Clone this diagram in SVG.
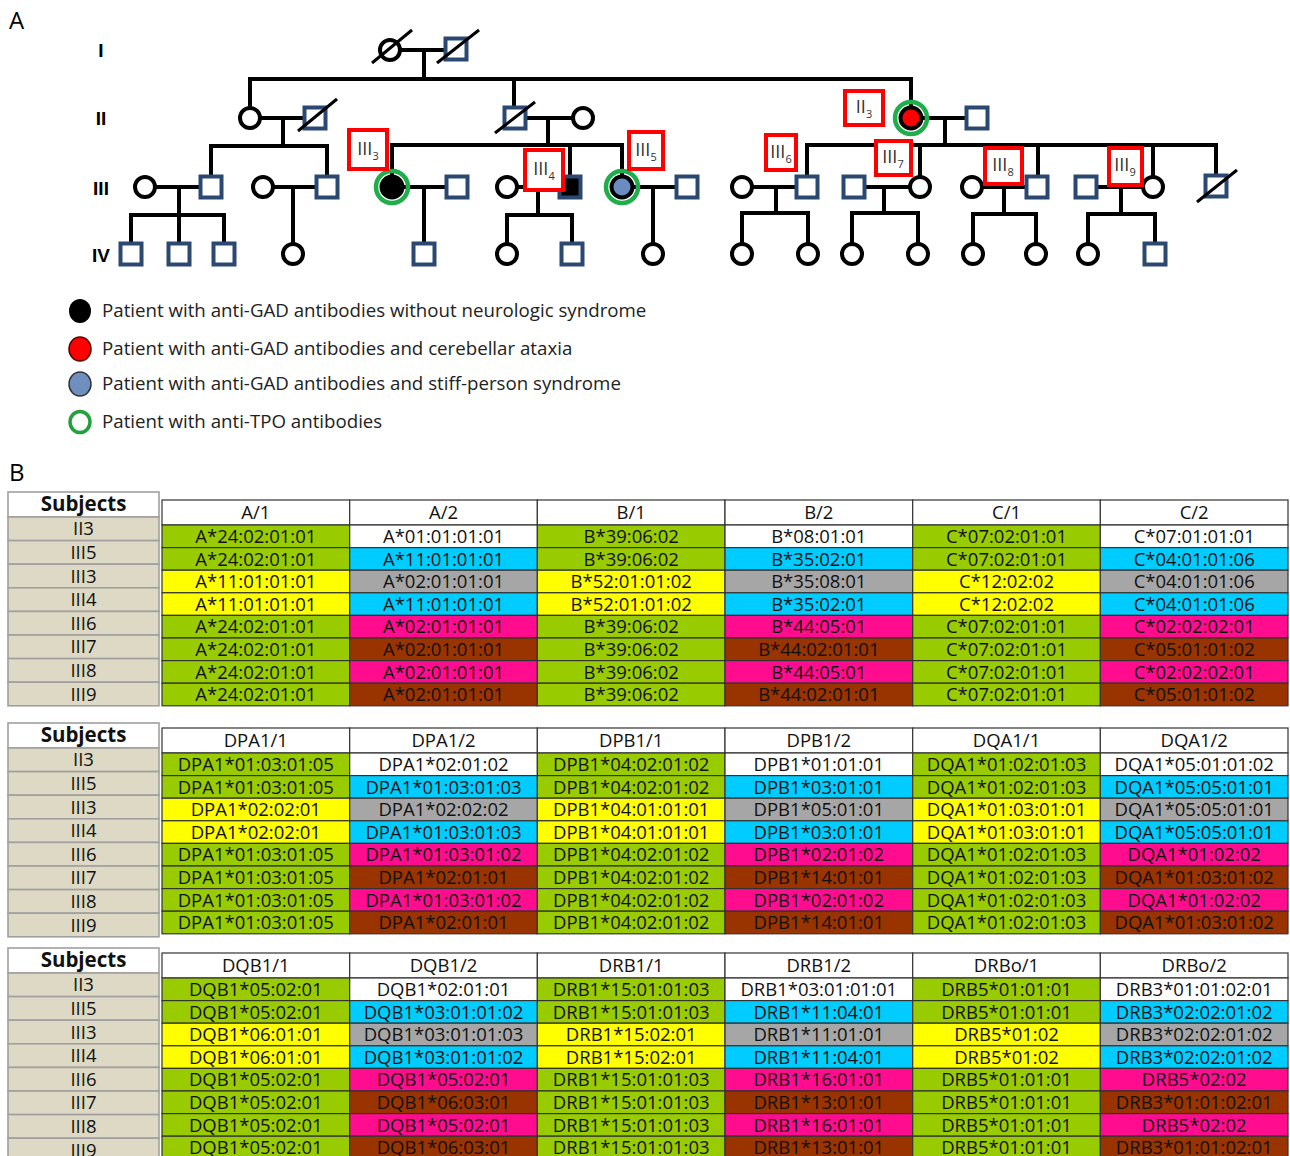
<svg xmlns="http://www.w3.org/2000/svg" width="1290" height="1156" viewBox="0 0 1290 1156">
<style>
.ln{stroke:#000;stroke-width:4;fill:none;stroke-linecap:square}
.sl{stroke:#000;stroke-width:3;fill:none}
.f{fill:#fff;stroke:#000;stroke-width:4}
.m{fill:#fff;stroke:#2b4970;stroke-width:4}
.tpo{fill:none;stroke:#1fae4b;stroke-width:4.5}
.lb{fill:#fff;stroke:#f00;stroke-width:4}
.lt{font-family:'Open Sans','DejaVu Sans',sans-serif;font-size:18px;fill:#333;text-anchor:middle}
.sub{font-size:11px}
.gen{font-family:'Liberation Sans',Arial,sans-serif;font-weight:bold;font-size:19px;text-anchor:middle;fill:#000}
.pl{font-family:'Open Sans','DejaVu Sans',sans-serif;font-size:24px;fill:#000}
.lg{font-family:'Open Sans','DejaVu Sans',sans-serif;font-size:18.7px;fill:#222}
.t{font-family:'Open Sans','DejaVu Sans',sans-serif;font-size:18.5px;fill:#111;text-anchor:middle}
.sh{font-family:'Open Sans','DejaVu Sans',sans-serif;font-size:20.5px;font-weight:bold;fill:#111;text-anchor:middle}
.cell{stroke:#333;stroke-width:1.2}
.sc{stroke:#a0a0a0;stroke-width:1.6}
.g{fill:#99cc00}.y{fill:#ffff00}.c{fill:#00ccff}.s{fill:#a6a6a6}.p{fill:#ff0d8e}.b{fill:#993300}.w{fill:#fff}.bg{fill:#ddd9c4}
</style>

<text class="pl" x="9" y="29">A</text>
<text class="pl" x="9" y="481">B</text>

<g id="generation-labels">
<text class="gen" x="101" y="57">I</text>
<text class="gen" x="101" y="125">II</text>
<text class="gen" x="101" y="195">III</text>
<text class="gen" x="101" y="262">IV</text>
</g>

<g id="connectors">
<path class="ln" d="M390,50H456 M424,50V79 M250,79H911 M250,79V118 M514,79V118 M911,79V118"/>
<path class="ln" d="M250,118H315 M283,118V146 M211,146H327 M211,146V187 M327,146V187"/>
<path class="ln" d="M515,118H583 M548,118V145 M392,145H622 M392,145V187 M570,145V187 M622,145V187"/>
<path class="ln" d="M911,118H977 M945,118V145 M807,145H1216 M807,145V187 M920,145V187 M1038,145V187 M1153,145V187 M1216,145V186"/>
<path class="ln" d="M145,187H211 M179,187V254 M131,215H224 M131,215V254 M224,215V254"/>
<path class="ln" d="M263,187H327 M293,187V254"/>
<path class="ln" d="M392,187H457 M424,187V254"/>
<path class="ln" d="M507,187H570 M538,187V215 M507,215H572 M507,215V254 M572,215V254"/>
<path class="ln" d="M622,187H687 M653,187V254"/>
<path class="ln" d="M742,187H807 M776,187V213 M742,213H808 M742,213V254 M808,213V254"/>
<path class="ln" d="M854,187H920 M884,187V213 M852,213H918 M852,213V254 M918,213V254"/>
<path class="ln" d="M972,187H1037 M1004,187V214 M973,214H1036 M973,214V254 M1036,214V254"/>
<path class="ln" d="M1086,187H1153 M1121,187V214 M1088,214H1155 M1088,214V254 M1155,214V254"/>
</g>

<g id="gen-I">
<g id="I1"><circle class="f" cx="390" cy="50" r="10"/><path class="sl" d="M372,63L412,30"/></g>
<g id="I2"><rect class="m" x="445.5" y="38.5" width="21" height="21"/><path class="sl" d="M437,63L479,30"/></g>
</g>

<g id="gen-II">
<g id="II1"><circle class="f" cx="250" cy="118" r="10"/></g>
<g id="II2"><rect class="m" x="304.5" y="107.5" width="21" height="21"/><path class="sl" d="M298,131L337,99"/></g>
<g id="II4"><rect class="m" x="504.5" y="107.5" width="21" height="21"/><path class="sl" d="M495,133L535,102"/></g>
<g id="II5"><circle class="f" cx="583" cy="118" r="10"/></g>
<g id="II3"><circle class="tpo" cx="911" cy="118" r="16"/><circle cx="911" cy="118" r="10.5" fill="#f00" stroke="#000" stroke-width="4"/></g>
<g id="II6"><rect class="m" x="966.5" y="107.5" width="21" height="21"/></g>
</g>

<g id="gen-III">
<g id="III-a"><circle class="f" cx="145" cy="187" r="10"/></g>
<g id="III1"><rect class="m" x="200.5" y="176.5" width="21" height="21"/></g>
<g id="III-b"><circle class="f" cx="263" cy="187" r="10"/></g>
<g id="III2"><rect class="m" x="316.5" y="176.5" width="21" height="21"/></g>
<g id="III3"><circle class="tpo" cx="392" cy="187" r="16"/><circle cx="392" cy="187" r="10.5" fill="#000" stroke="#000" stroke-width="4"/></g>
<g id="III3-sp"><rect class="m" x="446.5" y="176.5" width="21" height="21"/></g>
<g id="III4-sp"><circle class="f" cx="507" cy="187" r="10"/></g>
<g id="III4"><rect x="559.5" y="176.5" width="21" height="21" fill="#000" stroke="#2b4970" stroke-width="4"/></g>
<g id="III5"><circle class="tpo" cx="622" cy="187" r="16"/><circle cx="622" cy="187" r="10.5" fill="#6a8cc0" stroke="#000" stroke-width="4"/></g>
<g id="III5-sp"><rect class="m" x="676.5" y="176.5" width="21" height="21"/></g>
<g id="III6-sp"><circle class="f" cx="742" cy="187" r="10"/></g>
<g id="III6"><rect class="m" x="796.5" y="176.5" width="21" height="21"/></g>
<g id="III7-sp"><rect class="m" x="843.5" y="176.5" width="21" height="21"/></g>
<g id="III7"><circle class="f" cx="920" cy="187" r="10"/></g>
<g id="III8-sp"><circle class="f" cx="972" cy="187" r="10"/></g>
<g id="III8"><rect class="m" x="1026.5" y="176.5" width="21" height="21"/></g>
<g id="III9-sp"><rect class="m" x="1075.5" y="176.5" width="21" height="21"/></g>
<g id="III9"><circle class="f" cx="1153" cy="187" r="10"/></g>
<g id="III10"><rect class="m" x="1205.5" y="175.5" width="21" height="21"/><path class="sl" d="M1197,202L1237,170"/></g>
</g>

<g id="gen-IV">
<g id="IV1"><rect class="m" x="120.5" y="243.5" width="21" height="21"/></g>
<g id="IV2"><rect class="m" x="168.5" y="243.5" width="21" height="21"/></g>
<g id="IV3"><rect class="m" x="213.5" y="243.5" width="21" height="21"/></g>
<g id="IV4"><circle class="f" cx="293" cy="254" r="10"/></g>
<g id="IV5"><rect class="m" x="413.5" y="243.5" width="21" height="21"/></g>
<g id="IV6"><circle class="f" cx="507" cy="254" r="10"/></g>
<g id="IV7"><rect class="m" x="561.5" y="243.5" width="21" height="21"/></g>
<g id="IV8"><circle class="f" cx="653" cy="254" r="10"/></g>
<g id="IV9"><circle class="f" cx="742" cy="254" r="10"/></g>
<g id="IV10"><circle class="f" cx="808" cy="254" r="10"/></g>
<g id="IV11"><circle class="f" cx="852" cy="254" r="10"/></g>
<g id="IV12"><circle class="f" cx="918" cy="254" r="10"/></g>
<g id="IV13"><circle class="f" cx="973" cy="254" r="10"/></g>
<g id="IV14"><circle class="f" cx="1036" cy="254" r="10"/></g>
<g id="IV15"><circle class="f" cx="1088" cy="254" r="10"/></g>
<g id="IV16"><rect class="m" x="1144.5" y="243.5" width="21" height="21"/></g>
</g>

<g id="subject-labels">
<g id="lab-II3"><rect class="lb" x="845" y="91" width="38" height="34"/><text class="lt" x="864" y="113">II<tspan class="sub" dy="5">3</tspan></text></g>
<g id="lab-III3"><rect class="lb" x="349" y="130" width="38" height="39"/><text class="lt" x="368" y="155">III<tspan class="sub" dy="5">3</tspan></text></g>
<g id="lab-III4"><rect class="lb" x="525" y="150" width="38" height="40"/><text class="lt" x="544" y="175">III<tspan class="sub" dy="5">4</tspan></text></g>
<g id="lab-III5"><rect class="lb" x="629" y="132" width="34" height="37"/><text class="lt" x="646" y="156">III<tspan class="sub" dy="5">5</tspan></text></g>
<g id="lab-III6"><rect class="lb" x="766" y="135" width="30" height="35"/><text class="lt" x="781" y="158">III<tspan class="sub" dy="5">6</tspan></text></g>
<g id="lab-III7"><rect class="lb" x="876" y="141" width="35" height="34"/><text class="lt" x="893" y="163">III<tspan class="sub" dy="5">7</tspan></text></g>
<g id="lab-III8"><rect class="lb" x="985" y="148" width="37" height="36"/><text class="lt" x="1003" y="171">III<tspan class="sub" dy="5">8</tspan></text></g>
<g id="lab-III9"><rect class="lb" x="1109" y="148" width="33" height="37"/><text class="lt" x="1125" y="171">III<tspan class="sub" dy="5">9</tspan></text></g>
</g>

<g id="legend">
<g id="leg1"><ellipse cx="80" cy="311" rx="11" ry="12" fill="#000"/><text class="lg" x="102" y="317">Patient with anti-GAD antibodies without neurologic syndrome</text></g>
<g id="leg2"><ellipse cx="80" cy="349" rx="11" ry="12" fill="#f00" stroke="#5a0000" stroke-width="1.5"/><text class="lg" x="102" y="355">Patient with anti-GAD antibodies and cerebellar ataxia</text></g>
<g id="leg3"><ellipse cx="80" cy="384" rx="11" ry="12" fill="#6f8fbf" stroke="#333" stroke-width="1.5"/><text class="lg" x="102" y="390">Patient with anti-GAD antibodies and stiff-person syndrome</text></g>
<g id="leg4"><ellipse cx="80" cy="422" rx="10" ry="10.5" fill="#fff" stroke="#22a03c" stroke-width="3.5"/><text class="lg" x="102" y="428">Patient with anti-TPO antibodies</text></g>
</g>

<!-- ===== Table 1 ===== -->
<g id="subjects-1">
<rect class="w sc" x="8" y="492" width="151" height="25"/><text class="sh" x="83.5" y="511">Subjects</text>
<g transform="translate(8,517)">
<rect class="bg sc" x="0" y="0" width="151" height="23.6"/><text class="t" x="75.5" y="18.4">II3</text>
<rect class="bg sc" x="0" y="23.6" width="151" height="23.6"/><text class="t" x="75.5" y="42">III5</text>
<rect class="bg sc" x="0" y="47.2" width="151" height="23.6"/><text class="t" x="75.5" y="65.6">III3</text>
<rect class="bg sc" x="0" y="70.8" width="151" height="23.6"/><text class="t" x="75.5" y="89.2">III4</text>
<rect class="bg sc" x="0" y="94.4" width="151" height="23.6"/><text class="t" x="75.5" y="112.8">III6</text>
<rect class="bg sc" x="0" y="118" width="151" height="23.6"/><text class="t" x="75.5" y="136.4">III7</text>
<rect class="bg sc" x="0" y="141.6" width="151" height="23.6"/><text class="t" x="75.5" y="160">III8</text>
<rect class="bg sc" x="0" y="165.2" width="151" height="23.6"/><text class="t" x="75.5" y="183.6">III9</text>
</g>
</g>

<g id="hla-table-1">
<g transform="translate(0,500)">
<rect class="w cell" x="162" y="0" width="187.7" height="25"/><text class="t" x="255.8" y="19">A/1</text>
<rect class="w cell" x="349.7" y="0" width="187.7" height="25"/><text class="t" x="443.5" y="19">A/2</text>
<rect class="w cell" x="537.3" y="0" width="187.7" height="25"/><text class="t" x="631.2" y="19">B/1</text>
<rect class="w cell" x="725" y="0" width="187.7" height="25"/><text class="t" x="818.8" y="19">B/2</text>
<rect class="w cell" x="912.7" y="0" width="187.7" height="25"/><text class="t" x="1006.5" y="19">C/1</text>
<rect class="w cell" x="1100.3" y="0" width="187.7" height="25"/><text class="t" x="1194.2" y="19">C/2</text>
</g>
<g transform="translate(0,525)">
<rect class="g cell" x="162" y="0" width="187.7" height="22.6"/><text class="t" x="255.8" y="18">A*24:02:01:01</text>
<rect class="w cell" x="349.7" y="0" width="187.7" height="22.6"/><text class="t" x="443.5" y="18">A*01:01:01:01</text>
<rect class="g cell" x="537.3" y="0" width="187.7" height="22.6"/><text class="t" x="631.2" y="18">B*39:06:02</text>
<rect class="w cell" x="725" y="0" width="187.7" height="22.6"/><text class="t" x="818.8" y="18">B*08:01:01</text>
<rect class="g cell" x="912.7" y="0" width="187.7" height="22.6"/><text class="t" x="1006.5" y="18">C*07:02:01:01</text>
<rect class="w cell" x="1100.3" y="0" width="187.7" height="22.6"/><text class="t" x="1194.2" y="18">C*07:01:01:01</text>
</g>
<g transform="translate(0,547.6)">
<rect class="g cell" x="162" y="0" width="187.7" height="22.6"/><text class="t" x="255.8" y="18">A*24:02:01:01</text>
<rect class="c cell" x="349.7" y="0" width="187.7" height="22.6"/><text class="t" x="443.5" y="18">A*11:01:01:01</text>
<rect class="g cell" x="537.3" y="0" width="187.7" height="22.6"/><text class="t" x="631.2" y="18">B*39:06:02</text>
<rect class="c cell" x="725" y="0" width="187.7" height="22.6"/><text class="t" x="818.8" y="18">B*35:02:01</text>
<rect class="g cell" x="912.7" y="0" width="187.7" height="22.6"/><text class="t" x="1006.5" y="18">C*07:02:01:01</text>
<rect class="c cell" x="1100.3" y="0" width="187.7" height="22.6"/><text class="t" x="1194.2" y="18">C*04:01:01:06</text>
</g>
<g transform="translate(0,570.2)">
<rect class="y cell" x="162" y="0" width="187.7" height="22.6"/><text class="t" x="255.8" y="18">A*11:01:01:01</text>
<rect class="s cell" x="349.7" y="0" width="187.7" height="22.6"/><text class="t" x="443.5" y="18">A*02:01:01:01</text>
<rect class="y cell" x="537.3" y="0" width="187.7" height="22.6"/><text class="t" x="631.2" y="18">B*52:01:01:02</text>
<rect class="s cell" x="725" y="0" width="187.7" height="22.6"/><text class="t" x="818.8" y="18">B*35:08:01</text>
<rect class="y cell" x="912.7" y="0" width="187.7" height="22.6"/><text class="t" x="1006.5" y="18">C*12:02:02</text>
<rect class="s cell" x="1100.3" y="0" width="187.7" height="22.6"/><text class="t" x="1194.2" y="18">C*04:01:01:06</text>
</g>
<g transform="translate(0,592.8)">
<rect class="y cell" x="162" y="0" width="187.7" height="22.6"/><text class="t" x="255.8" y="18">A*11:01:01:01</text>
<rect class="c cell" x="349.7" y="0" width="187.7" height="22.6"/><text class="t" x="443.5" y="18">A*11:01:01:01</text>
<rect class="y cell" x="537.3" y="0" width="187.7" height="22.6"/><text class="t" x="631.2" y="18">B*52:01:01:02</text>
<rect class="c cell" x="725" y="0" width="187.7" height="22.6"/><text class="t" x="818.8" y="18">B*35:02:01</text>
<rect class="y cell" x="912.7" y="0" width="187.7" height="22.6"/><text class="t" x="1006.5" y="18">C*12:02:02</text>
<rect class="c cell" x="1100.3" y="0" width="187.7" height="22.6"/><text class="t" x="1194.2" y="18">C*04:01:01:06</text>
</g>
<g transform="translate(0,615.4)">
<rect class="g cell" x="162" y="0" width="187.7" height="22.6"/><text class="t" x="255.8" y="18">A*24:02:01:01</text>
<rect class="p cell" x="349.7" y="0" width="187.7" height="22.6"/><text class="t" x="443.5" y="18">A*02:01:01:01</text>
<rect class="g cell" x="537.3" y="0" width="187.7" height="22.6"/><text class="t" x="631.2" y="18">B*39:06:02</text>
<rect class="p cell" x="725" y="0" width="187.7" height="22.6"/><text class="t" x="818.8" y="18">B*44:05:01</text>
<rect class="g cell" x="912.7" y="0" width="187.7" height="22.6"/><text class="t" x="1006.5" y="18">C*07:02:01:01</text>
<rect class="p cell" x="1100.3" y="0" width="187.7" height="22.6"/><text class="t" x="1194.2" y="18">C*02:02:02:01</text>
</g>
<g transform="translate(0,638)">
<rect class="g cell" x="162" y="0" width="187.7" height="22.6"/><text class="t" x="255.8" y="18">A*24:02:01:01</text>
<rect class="b cell" x="349.7" y="0" width="187.7" height="22.6"/><text class="t" x="443.5" y="18">A*02:01:01:01</text>
<rect class="g cell" x="537.3" y="0" width="187.7" height="22.6"/><text class="t" x="631.2" y="18">B*39:06:02</text>
<rect class="b cell" x="725" y="0" width="187.7" height="22.6"/><text class="t" x="818.8" y="18">B*44:02:01:01</text>
<rect class="g cell" x="912.7" y="0" width="187.7" height="22.6"/><text class="t" x="1006.5" y="18">C*07:02:01:01</text>
<rect class="b cell" x="1100.3" y="0" width="187.7" height="22.6"/><text class="t" x="1194.2" y="18">C*05:01:01:02</text>
</g>
<g transform="translate(0,660.6)">
<rect class="g cell" x="162" y="0" width="187.7" height="22.6"/><text class="t" x="255.8" y="18">A*24:02:01:01</text>
<rect class="p cell" x="349.7" y="0" width="187.7" height="22.6"/><text class="t" x="443.5" y="18">A*02:01:01:01</text>
<rect class="g cell" x="537.3" y="0" width="187.7" height="22.6"/><text class="t" x="631.2" y="18">B*39:06:02</text>
<rect class="p cell" x="725" y="0" width="187.7" height="22.6"/><text class="t" x="818.8" y="18">B*44:05:01</text>
<rect class="g cell" x="912.7" y="0" width="187.7" height="22.6"/><text class="t" x="1006.5" y="18">C*07:02:01:01</text>
<rect class="p cell" x="1100.3" y="0" width="187.7" height="22.6"/><text class="t" x="1194.2" y="18">C*02:02:02:01</text>
</g>
<g transform="translate(0,683.2)">
<rect class="g cell" x="162" y="0" width="187.7" height="22.6"/><text class="t" x="255.8" y="18">A*24:02:01:01</text>
<rect class="b cell" x="349.7" y="0" width="187.7" height="22.6"/><text class="t" x="443.5" y="18">A*02:01:01:01</text>
<rect class="g cell" x="537.3" y="0" width="187.7" height="22.6"/><text class="t" x="631.2" y="18">B*39:06:02</text>
<rect class="b cell" x="725" y="0" width="187.7" height="22.6"/><text class="t" x="818.8" y="18">B*44:02:01:01</text>
<rect class="g cell" x="912.7" y="0" width="187.7" height="22.6"/><text class="t" x="1006.5" y="18">C*07:02:01:01</text>
<rect class="b cell" x="1100.3" y="0" width="187.7" height="22.6"/><text class="t" x="1194.2" y="18">C*05:01:01:02</text>
</g>
</g>

<!-- ===== Table 2 ===== -->
<g id="subjects-2">
<rect class="w sc" x="8" y="723" width="151" height="25"/><text class="sh" x="83.5" y="742">Subjects</text>
<g transform="translate(8,748)">
<rect class="bg sc" x="0" y="0" width="151" height="23.6"/><text class="t" x="75.5" y="18.4">II3</text>
<rect class="bg sc" x="0" y="23.6" width="151" height="23.6"/><text class="t" x="75.5" y="42">III5</text>
<rect class="bg sc" x="0" y="47.2" width="151" height="23.6"/><text class="t" x="75.5" y="65.6">III3</text>
<rect class="bg sc" x="0" y="70.8" width="151" height="23.6"/><text class="t" x="75.5" y="89.2">III4</text>
<rect class="bg sc" x="0" y="94.4" width="151" height="23.6"/><text class="t" x="75.5" y="112.8">III6</text>
<rect class="bg sc" x="0" y="118" width="151" height="23.6"/><text class="t" x="75.5" y="136.4">III7</text>
<rect class="bg sc" x="0" y="141.6" width="151" height="23.6"/><text class="t" x="75.5" y="160">III8</text>
<rect class="bg sc" x="0" y="165.2" width="151" height="23.6"/><text class="t" x="75.5" y="183.6">III9</text>
</g>
</g>

<g id="hla-table-2">
<g transform="translate(0,728)">
<rect class="w cell" x="162" y="0" width="187.7" height="25"/><text class="t" x="255.8" y="19">DPA1/1</text>
<rect class="w cell" x="349.7" y="0" width="187.7" height="25"/><text class="t" x="443.5" y="19">DPA1/2</text>
<rect class="w cell" x="537.3" y="0" width="187.7" height="25"/><text class="t" x="631.2" y="19">DPB1/1</text>
<rect class="w cell" x="725" y="0" width="187.7" height="25"/><text class="t" x="818.8" y="19">DPB1/2</text>
<rect class="w cell" x="912.7" y="0" width="187.7" height="25"/><text class="t" x="1006.5" y="19">DQA1/1</text>
<rect class="w cell" x="1100.3" y="0" width="187.7" height="25"/><text class="t" x="1194.2" y="19">DQA1/2</text>
</g>
<g transform="translate(0,753)">
<rect class="g cell" x="162" y="0" width="187.7" height="22.6"/><text class="t" x="255.8" y="18">DPA1*01:03:01:05</text>
<rect class="w cell" x="349.7" y="0" width="187.7" height="22.6"/><text class="t" x="443.5" y="18">DPA1*02:01:02</text>
<rect class="g cell" x="537.3" y="0" width="187.7" height="22.6"/><text class="t" x="631.2" y="18">DPB1*04:02:01:02</text>
<rect class="w cell" x="725" y="0" width="187.7" height="22.6"/><text class="t" x="818.8" y="18">DPB1*01:01:01</text>
<rect class="g cell" x="912.7" y="0" width="187.7" height="22.6"/><text class="t" x="1006.5" y="18">DQA1*01:02:01:03</text>
<rect class="w cell" x="1100.3" y="0" width="187.7" height="22.6"/><text class="t" x="1194.2" y="18">DQA1*05:01:01:02</text>
</g>
<g transform="translate(0,775.6)">
<rect class="g cell" x="162" y="0" width="187.7" height="22.6"/><text class="t" x="255.8" y="18">DPA1*01:03:01:05</text>
<rect class="c cell" x="349.7" y="0" width="187.7" height="22.6"/><text class="t" x="443.5" y="18">DPA1*01:03:01:03</text>
<rect class="g cell" x="537.3" y="0" width="187.7" height="22.6"/><text class="t" x="631.2" y="18">DPB1*04:02:01:02</text>
<rect class="c cell" x="725" y="0" width="187.7" height="22.6"/><text class="t" x="818.8" y="18">DPB1*03:01:01</text>
<rect class="g cell" x="912.7" y="0" width="187.7" height="22.6"/><text class="t" x="1006.5" y="18">DQA1*01:02:01:03</text>
<rect class="c cell" x="1100.3" y="0" width="187.7" height="22.6"/><text class="t" x="1194.2" y="18">DQA1*05:05:01:01</text>
</g>
<g transform="translate(0,798.2)">
<rect class="y cell" x="162" y="0" width="187.7" height="22.6"/><text class="t" x="255.8" y="18">DPA1*02:02:01</text>
<rect class="s cell" x="349.7" y="0" width="187.7" height="22.6"/><text class="t" x="443.5" y="18">DPA1*02:02:02</text>
<rect class="y cell" x="537.3" y="0" width="187.7" height="22.6"/><text class="t" x="631.2" y="18">DPB1*04:01:01:01</text>
<rect class="s cell" x="725" y="0" width="187.7" height="22.6"/><text class="t" x="818.8" y="18">DPB1*05:01:01</text>
<rect class="y cell" x="912.7" y="0" width="187.7" height="22.6"/><text class="t" x="1006.5" y="18">DQA1*01:03:01:01</text>
<rect class="s cell" x="1100.3" y="0" width="187.7" height="22.6"/><text class="t" x="1194.2" y="18">DQA1*05:05:01:01</text>
</g>
<g transform="translate(0,820.8)">
<rect class="y cell" x="162" y="0" width="187.7" height="22.6"/><text class="t" x="255.8" y="18">DPA1*02:02:01</text>
<rect class="c cell" x="349.7" y="0" width="187.7" height="22.6"/><text class="t" x="443.5" y="18">DPA1*01:03:01:03</text>
<rect class="y cell" x="537.3" y="0" width="187.7" height="22.6"/><text class="t" x="631.2" y="18">DPB1*04:01:01:01</text>
<rect class="c cell" x="725" y="0" width="187.7" height="22.6"/><text class="t" x="818.8" y="18">DPB1*03:01:01</text>
<rect class="y cell" x="912.7" y="0" width="187.7" height="22.6"/><text class="t" x="1006.5" y="18">DQA1*01:03:01:01</text>
<rect class="c cell" x="1100.3" y="0" width="187.7" height="22.6"/><text class="t" x="1194.2" y="18">DQA1*05:05:01:01</text>
</g>
<g transform="translate(0,843.4)">
<rect class="g cell" x="162" y="0" width="187.7" height="22.6"/><text class="t" x="255.8" y="18">DPA1*01:03:01:05</text>
<rect class="p cell" x="349.7" y="0" width="187.7" height="22.6"/><text class="t" x="443.5" y="18">DPA1*01:03:01:02</text>
<rect class="g cell" x="537.3" y="0" width="187.7" height="22.6"/><text class="t" x="631.2" y="18">DPB1*04:02:01:02</text>
<rect class="p cell" x="725" y="0" width="187.7" height="22.6"/><text class="t" x="818.8" y="18">DPB1*02:01:02</text>
<rect class="g cell" x="912.7" y="0" width="187.7" height="22.6"/><text class="t" x="1006.5" y="18">DQA1*01:02:01:03</text>
<rect class="p cell" x="1100.3" y="0" width="187.7" height="22.6"/><text class="t" x="1194.2" y="18">DQA1*01:02:02</text>
</g>
<g transform="translate(0,866)">
<rect class="g cell" x="162" y="0" width="187.7" height="22.6"/><text class="t" x="255.8" y="18">DPA1*01:03:01:05</text>
<rect class="b cell" x="349.7" y="0" width="187.7" height="22.6"/><text class="t" x="443.5" y="18">DPA1*02:01:01</text>
<rect class="g cell" x="537.3" y="0" width="187.7" height="22.6"/><text class="t" x="631.2" y="18">DPB1*04:02:01:02</text>
<rect class="b cell" x="725" y="0" width="187.7" height="22.6"/><text class="t" x="818.8" y="18">DPB1*14:01:01</text>
<rect class="g cell" x="912.7" y="0" width="187.7" height="22.6"/><text class="t" x="1006.5" y="18">DQA1*01:02:01:03</text>
<rect class="b cell" x="1100.3" y="0" width="187.7" height="22.6"/><text class="t" x="1194.2" y="18">DQA1*01:03:01:02</text>
</g>
<g transform="translate(0,888.6)">
<rect class="g cell" x="162" y="0" width="187.7" height="22.6"/><text class="t" x="255.8" y="18">DPA1*01:03:01:05</text>
<rect class="p cell" x="349.7" y="0" width="187.7" height="22.6"/><text class="t" x="443.5" y="18">DPA1*01:03:01:02</text>
<rect class="g cell" x="537.3" y="0" width="187.7" height="22.6"/><text class="t" x="631.2" y="18">DPB1*04:02:01:02</text>
<rect class="p cell" x="725" y="0" width="187.7" height="22.6"/><text class="t" x="818.8" y="18">DPB1*02:01:02</text>
<rect class="g cell" x="912.7" y="0" width="187.7" height="22.6"/><text class="t" x="1006.5" y="18">DQA1*01:02:01:03</text>
<rect class="p cell" x="1100.3" y="0" width="187.7" height="22.6"/><text class="t" x="1194.2" y="18">DQA1*01:02:02</text>
</g>
<g transform="translate(0,911.2)">
<rect class="g cell" x="162" y="0" width="187.7" height="22.6"/><text class="t" x="255.8" y="18">DPA1*01:03:01:05</text>
<rect class="b cell" x="349.7" y="0" width="187.7" height="22.6"/><text class="t" x="443.5" y="18">DPA1*02:01:01</text>
<rect class="g cell" x="537.3" y="0" width="187.7" height="22.6"/><text class="t" x="631.2" y="18">DPB1*04:02:01:02</text>
<rect class="b cell" x="725" y="0" width="187.7" height="22.6"/><text class="t" x="818.8" y="18">DPB1*14:01:01</text>
<rect class="g cell" x="912.7" y="0" width="187.7" height="22.6"/><text class="t" x="1006.5" y="18">DQA1*01:02:01:03</text>
<rect class="b cell" x="1100.3" y="0" width="187.7" height="22.6"/><text class="t" x="1194.2" y="18">DQA1*01:03:01:02</text>
</g>
</g>

<!-- ===== Table 3 ===== -->
<g id="subjects-3">
<rect class="w sc" x="8" y="948" width="151" height="25"/><text class="sh" x="83.5" y="967">Subjects</text>
<g transform="translate(8,973)">
<rect class="bg sc" x="0" y="0" width="151" height="23.6"/><text class="t" x="75.5" y="18.4">II3</text>
<rect class="bg sc" x="0" y="23.6" width="151" height="23.6"/><text class="t" x="75.5" y="42">III5</text>
<rect class="bg sc" x="0" y="47.2" width="151" height="23.6"/><text class="t" x="75.5" y="65.6">III3</text>
<rect class="bg sc" x="0" y="70.8" width="151" height="23.6"/><text class="t" x="75.5" y="89.2">III4</text>
<rect class="bg sc" x="0" y="94.4" width="151" height="23.6"/><text class="t" x="75.5" y="112.8">III6</text>
<rect class="bg sc" x="0" y="118" width="151" height="23.6"/><text class="t" x="75.5" y="136.4">III7</text>
<rect class="bg sc" x="0" y="141.6" width="151" height="23.6"/><text class="t" x="75.5" y="160">III8</text>
<rect class="bg sc" x="0" y="165.2" width="151" height="23.6"/><text class="t" x="75.5" y="183.6">III9</text>
</g>
</g>

<g id="hla-table-3">
<g transform="translate(0,953)">
<rect class="w cell" x="162" y="0" width="187.7" height="25"/><text class="t" x="255.8" y="19">DQB1/1</text>
<rect class="w cell" x="349.7" y="0" width="187.7" height="25"/><text class="t" x="443.5" y="19">DQB1/2</text>
<rect class="w cell" x="537.3" y="0" width="187.7" height="25"/><text class="t" x="631.2" y="19">DRB1/1</text>
<rect class="w cell" x="725" y="0" width="187.7" height="25"/><text class="t" x="818.8" y="19">DRB1/2</text>
<rect class="w cell" x="912.7" y="0" width="187.7" height="25"/><text class="t" x="1006.5" y="19">DRBo/1</text>
<rect class="w cell" x="1100.3" y="0" width="187.7" height="25"/><text class="t" x="1194.2" y="19">DRBo/2</text>
</g>
<g transform="translate(0,978)">
<rect class="g cell" x="162" y="0" width="187.7" height="22.6"/><text class="t" x="255.8" y="18">DQB1*05:02:01</text>
<rect class="w cell" x="349.7" y="0" width="187.7" height="22.6"/><text class="t" x="443.5" y="18">DQB1*02:01:01</text>
<rect class="g cell" x="537.3" y="0" width="187.7" height="22.6"/><text class="t" x="631.2" y="18">DRB1*15:01:01:03</text>
<rect class="w cell" x="725" y="0" width="187.7" height="22.6"/><text class="t" x="818.8" y="18">DRB1*03:01:01:01</text>
<rect class="g cell" x="912.7" y="0" width="187.7" height="22.6"/><text class="t" x="1006.5" y="18">DRB5*01:01:01</text>
<rect class="w cell" x="1100.3" y="0" width="187.7" height="22.6"/><text class="t" x="1194.2" y="18">DRB3*01:01:02:01</text>
</g>
<g transform="translate(0,1000.6)">
<rect class="g cell" x="162" y="0" width="187.7" height="22.6"/><text class="t" x="255.8" y="18">DQB1*05:02:01</text>
<rect class="c cell" x="349.7" y="0" width="187.7" height="22.6"/><text class="t" x="443.5" y="18">DQB1*03:01:01:02</text>
<rect class="g cell" x="537.3" y="0" width="187.7" height="22.6"/><text class="t" x="631.2" y="18">DRB1*15:01:01:03</text>
<rect class="c cell" x="725" y="0" width="187.7" height="22.6"/><text class="t" x="818.8" y="18">DRB1*11:04:01</text>
<rect class="g cell" x="912.7" y="0" width="187.7" height="22.6"/><text class="t" x="1006.5" y="18">DRB5*01:01:01</text>
<rect class="c cell" x="1100.3" y="0" width="187.7" height="22.6"/><text class="t" x="1194.2" y="18">DRB3*02:02:01:02</text>
</g>
<g transform="translate(0,1023.2)">
<rect class="y cell" x="162" y="0" width="187.7" height="22.6"/><text class="t" x="255.8" y="18">DQB1*06:01:01</text>
<rect class="s cell" x="349.7" y="0" width="187.7" height="22.6"/><text class="t" x="443.5" y="18">DQB1*03:01:01:03</text>
<rect class="y cell" x="537.3" y="0" width="187.7" height="22.6"/><text class="t" x="631.2" y="18">DRB1*15:02:01</text>
<rect class="s cell" x="725" y="0" width="187.7" height="22.6"/><text class="t" x="818.8" y="18">DRB1*11:01:01</text>
<rect class="y cell" x="912.7" y="0" width="187.7" height="22.6"/><text class="t" x="1006.5" y="18">DRB5*01:02</text>
<rect class="s cell" x="1100.3" y="0" width="187.7" height="22.6"/><text class="t" x="1194.2" y="18">DRB3*02:02:01:02</text>
</g>
<g transform="translate(0,1045.8)">
<rect class="y cell" x="162" y="0" width="187.7" height="22.6"/><text class="t" x="255.8" y="18">DQB1*06:01:01</text>
<rect class="c cell" x="349.7" y="0" width="187.7" height="22.6"/><text class="t" x="443.5" y="18">DQB1*03:01:01:02</text>
<rect class="y cell" x="537.3" y="0" width="187.7" height="22.6"/><text class="t" x="631.2" y="18">DRB1*15:02:01</text>
<rect class="c cell" x="725" y="0" width="187.7" height="22.6"/><text class="t" x="818.8" y="18">DRB1*11:04:01</text>
<rect class="y cell" x="912.7" y="0" width="187.7" height="22.6"/><text class="t" x="1006.5" y="18">DRB5*01:02</text>
<rect class="c cell" x="1100.3" y="0" width="187.7" height="22.6"/><text class="t" x="1194.2" y="18">DRB3*02:02:01:02</text>
</g>
<g transform="translate(0,1068.4)">
<rect class="g cell" x="162" y="0" width="187.7" height="22.6"/><text class="t" x="255.8" y="18">DQB1*05:02:01</text>
<rect class="p cell" x="349.7" y="0" width="187.7" height="22.6"/><text class="t" x="443.5" y="18">DQB1*05:02:01</text>
<rect class="g cell" x="537.3" y="0" width="187.7" height="22.6"/><text class="t" x="631.2" y="18">DRB1*15:01:01:03</text>
<rect class="p cell" x="725" y="0" width="187.7" height="22.6"/><text class="t" x="818.8" y="18">DRB1*16:01:01</text>
<rect class="g cell" x="912.7" y="0" width="187.7" height="22.6"/><text class="t" x="1006.5" y="18">DRB5*01:01:01</text>
<rect class="p cell" x="1100.3" y="0" width="187.7" height="22.6"/><text class="t" x="1194.2" y="18">DRB5*02:02</text>
</g>
<g transform="translate(0,1091)">
<rect class="g cell" x="162" y="0" width="187.7" height="22.6"/><text class="t" x="255.8" y="18">DQB1*05:02:01</text>
<rect class="b cell" x="349.7" y="0" width="187.7" height="22.6"/><text class="t" x="443.5" y="18">DQB1*06:03:01</text>
<rect class="g cell" x="537.3" y="0" width="187.7" height="22.6"/><text class="t" x="631.2" y="18">DRB1*15:01:01:03</text>
<rect class="b cell" x="725" y="0" width="187.7" height="22.6"/><text class="t" x="818.8" y="18">DRB1*13:01:01</text>
<rect class="g cell" x="912.7" y="0" width="187.7" height="22.6"/><text class="t" x="1006.5" y="18">DRB5*01:01:01</text>
<rect class="b cell" x="1100.3" y="0" width="187.7" height="22.6"/><text class="t" x="1194.2" y="18">DRB3*01:01:02:01</text>
</g>
<g transform="translate(0,1113.6)">
<rect class="g cell" x="162" y="0" width="187.7" height="22.6"/><text class="t" x="255.8" y="18">DQB1*05:02:01</text>
<rect class="p cell" x="349.7" y="0" width="187.7" height="22.6"/><text class="t" x="443.5" y="18">DQB1*05:02:01</text>
<rect class="g cell" x="537.3" y="0" width="187.7" height="22.6"/><text class="t" x="631.2" y="18">DRB1*15:01:01:03</text>
<rect class="p cell" x="725" y="0" width="187.7" height="22.6"/><text class="t" x="818.8" y="18">DRB1*16:01:01</text>
<rect class="g cell" x="912.7" y="0" width="187.7" height="22.6"/><text class="t" x="1006.5" y="18">DRB5*01:01:01</text>
<rect class="p cell" x="1100.3" y="0" width="187.7" height="22.6"/><text class="t" x="1194.2" y="18">DRB5*02:02</text>
</g>
<g transform="translate(0,1136.2)">
<rect class="g cell" x="162" y="0" width="187.7" height="22.6"/><text class="t" x="255.8" y="17.5">DQB1*05:02:01</text>
<rect class="b cell" x="349.7" y="0" width="187.7" height="22.6"/><text class="t" x="443.5" y="17.5">DQB1*06:03:01</text>
<rect class="g cell" x="537.3" y="0" width="187.7" height="22.6"/><text class="t" x="631.2" y="17.5">DRB1*15:01:01:03</text>
<rect class="b cell" x="725" y="0" width="187.7" height="22.6"/><text class="t" x="818.8" y="17.5">DRB1*13:01:01</text>
<rect class="g cell" x="912.7" y="0" width="187.7" height="22.6"/><text class="t" x="1006.5" y="17.5">DRB5*01:01:01</text>
<rect class="b cell" x="1100.3" y="0" width="187.7" height="22.6"/><text class="t" x="1194.2" y="17.5">DRB3*01:01:02:01</text>
</g>
</g>
</svg>
